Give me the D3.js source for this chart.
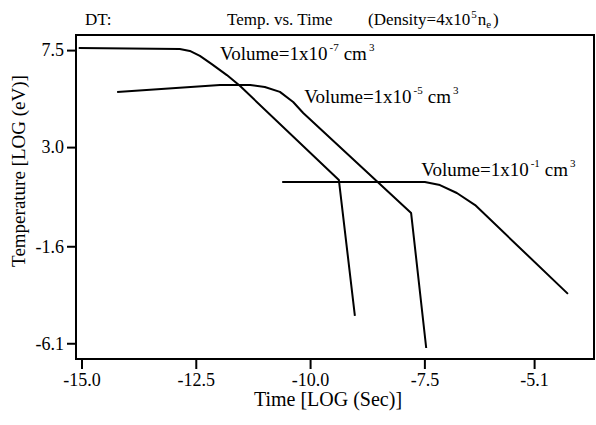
<!DOCTYPE html>
<html>
<head>
<meta charset="utf-8">
<script src="https://cdn.jsdelivr.net/npm/d3@7"></script>
<style>
  body { margin: 0; background: #fff; }
  svg { display: block; font-family: "Liberation Serif", "DejaVu Serif", serif; }
</style>
</head>
<body>
<svg id="chart" width="596" height="425"></svg>
<script>
// tick values
const xTicks = [-15.0, -12.5, -10.0, -7.5, -5.1];
const yTicks = [7.5, 3.0, -1.6, -6.1];

// curves: [log time, log temperature]
const vol7 = [[-15.06, 7.60], [-12.85, 7.55], [-12.63, 7.46], [-12.41, 7.23], [-12.15, 6.85],
  [-11.82, 6.34], [-11.53, 5.83], [-9.37, 1.47], [-9.02, -4.83]];
const vol5 = [[-14.22, 5.56], [-11.97, 5.88], [-11.31, 5.88], [-10.99, 5.79], [-10.66, 5.56],
  [-10.37, 5.09], [-10.15, 4.58], [-7.79, -0.06], [-7.46, -6.32]];
const vol1 = [[-10.61, 1.38], [-7.49, 1.38], [-7.16, 1.24], [-6.79, 0.87], [-6.39, 0.31],
  [-4.36, -3.81]];

const svg = d3.select("#chart");
const margin = { top: 35, right: 2, bottom: 66, left: 76 };
const W = 596, H = 425;

const x = d3.scaleLinear().domain([-15.12, -3.79]).range([margin.left, W - margin.right]);
const y = d3.scaleLinear().domain([8.2, -6.83]).range([margin.top, H - margin.bottom]);

// plain hyphen for negatives, like the original
const fmt = d => d.toFixed(1);

// axes
svg.append("g")
  .attr("transform", "translate(0," + (H - margin.bottom) + ")")
  .call(d3.axisBottom(x).tickValues(xTicks).tickSize(10).tickPadding(4).tickFormat(fmt))
  .call(g => g.select(".domain").remove())
  .call(g => g.selectAll("line").attr("stroke-width", 2))
  .selectAll("text")
  .attr("font-size", 18)
  .attr("fill", "#000")
  .attr("font-family", "Liberation Serif");

svg.append("g")
  .attr("transform", "translate(" + margin.left + ",0)")
  .call(d3.axisLeft(y).tickValues(yTicks).tickSize(9).tickPadding(3).tickFormat(fmt))
  .call(g => g.select(".domain").remove())
  .call(g => g.selectAll("line").attr("stroke-width", 2))
  .selectAll("text")
  .attr("font-size", 18)
  .attr("fill", "#000")
  .attr("font-family", "Liberation Serif");

// frame
svg.append("rect")
  .attr("x", margin.left)
  .attr("y", margin.top)
  .attr("width", W - margin.left - margin.right)
  .attr("height", H - margin.top - margin.bottom)
  .attr("fill", "none")
  .attr("stroke", "#000")
  .attr("stroke-width", 2);

// curves
const line = d3.line().x(d => x(d[0])).y(d => y(d[1]));
[vol7, vol5, vol1].forEach(s => {
  svg.append("path")
    .attr("d", line(s))
    .attr("fill", "none")
    .attr("stroke", "#000")
    .attr("stroke-width", 2)
    .attr("stroke-linejoin", "round");
});

// curve labels
function volLabel(px, py, exp) {
  const t = svg.append("text").attr("x", px).attr("y", py).attr("font-size", 19);
  t.append("tspan").text("Volume=1x10");
  t.append("tspan").attr("font-size", 11).attr("dx", 2).attr("dy", -9).text(exp);
  t.append("tspan").attr("dx", 5).attr("dy", 9).text("cm");
  t.append("tspan").attr("font-size", 11).attr("dx", 2).attr("dy", -9).text("3");
}
volLabel(x(-11.97), y(7.04), "-7");
volLabel(x(-10.13), y(5.05), "-5");
volLabel(x(-7.57), y(1.66), "-1");

// titles
svg.append("text").attr("x", 85).attr("y", 25).attr("font-size", 17).text("DT:");
svg.append("text").attr("x", 227).attr("y", 25).attr("font-size", 17).text("Temp. vs. Time");
const dens = svg.append("text").attr("x", 368).attr("y", 25).attr("font-size", 17);
dens.append("tspan").text("(Density=4x10");
dens.append("tspan").attr("font-size", 11).attr("dx", 1).attr("dy", -7).text("5");
dens.append("tspan").attr("dx", 1).attr("dy", 7).text("n");
dens.append("tspan").attr("font-size", 11).attr("dy", 3).text("e");
dens.append("tspan").attr("dx", 2).attr("dy", -3).text(")");

// axis titles
svg.append("text")
  .attr("x", 328)
  .attr("y", 406)
  .attr("text-anchor", "middle")
  .attr("font-size", 20)
  .text("Time [LOG (Sec)]");

svg.append("text")
  .attr("transform", "translate(25,171) rotate(-90)")
  .attr("text-anchor", "middle")
  .attr("font-size", 19)
  .text("Temperature [LOG (eV)]");
</script>
</body>
</html>
